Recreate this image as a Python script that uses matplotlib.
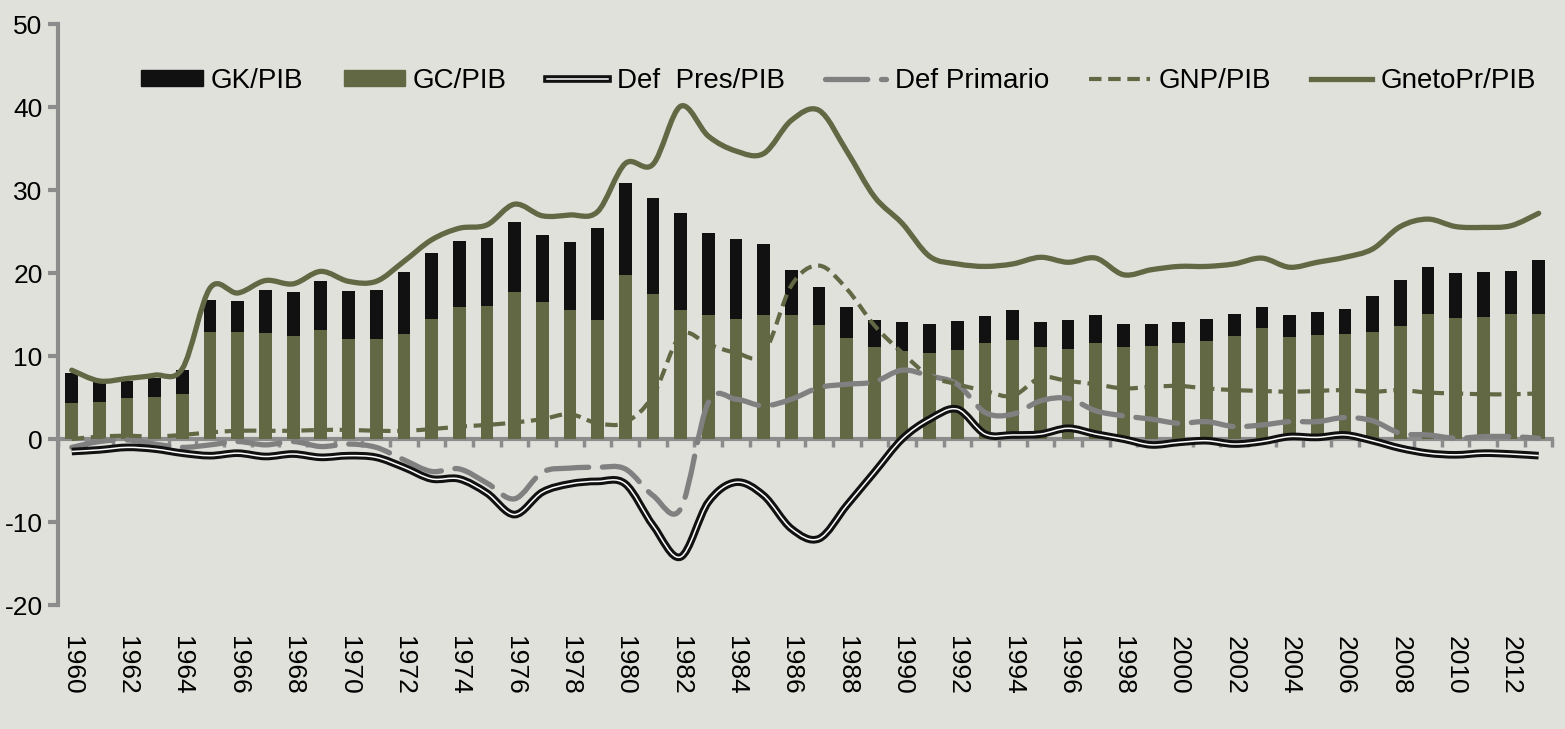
import matplotlib
matplotlib.use("Agg")
import matplotlib.pyplot as plt
import numpy as np
from matplotlib.path import Path
from matplotlib.patches import PathPatch, Patch
from matplotlib.lines import Line2D
import matplotlib.patheffects as pe

plt.rcParams["font.family"] = ["Liberation Sans", "DejaVu Sans"]
plt.rcParams["axes.unicode_minus"] = False

years = list(range(1960, 2014))

gc_pib = [4.3, 4.5, 5.0, 5.1, 5.4, 12.9, 12.9, 12.8, 12.4, 13.1,
          12.0, 12.1, 12.7, 14.5, 15.9, 16.0, 17.7, 16.5, 15.6, 14.4,
          19.8, 17.5, 15.6, 14.9, 14.5, 14.9, 14.9, 13.7, 12.2, 11.1,
          10.6, 10.4, 10.7, 11.6, 11.9, 11.1, 10.9, 11.6, 11.1, 11.2,
          11.6, 11.8, 12.4, 13.4, 12.3, 12.5, 12.7, 12.9, 13.6, 15.1,
          14.6, 14.7, 15.1, 15.1]
total_pib = [8.0, 6.9, 7.0, 7.4, 8.3, 16.8, 16.6, 17.9, 17.7, 19.0,
             17.8, 18.0, 20.1, 22.4, 23.9, 24.2, 26.1, 24.6, 23.7, 25.4,
             30.9, 29.0, 27.2, 24.8, 24.1, 23.5, 20.4, 18.3, 15.9, 14.3,
             14.1, 13.9, 14.2, 14.8, 15.6, 14.1, 14.3, 14.9, 13.9, 13.9,
             14.1, 14.5, 15.1, 15.9, 14.9, 15.3, 15.7, 17.2, 19.2, 20.7,
             20.0, 20.1, 20.2, 21.6]
gk_pib = [t - c for t, c in zip(total_pib, gc_pib)]

def_pres = [-1.5, -1.3, -1.0, -1.2, -1.7, -2.0, -1.7, -2.1, -1.8, -2.2,
            -2.0, -2.2, -3.4, -4.8, -4.8, -6.5, -9.1, -6.4, -5.4, -5.1,
            -5.4, -10.4, -14.2, -7.6, -5.2, -6.8, -10.8, -12.0, -8.0, -4.0,
            0.0, 2.4, 3.6, 0.6, 0.5, 0.6, 1.3, 0.6, 0.0, -0.7,
            -0.4, -0.2, -0.6, -0.3, 0.3, 0.2, 0.5, -0.2, -1.1, -1.7,
            -1.9, -1.7, -1.8, -2.0]
def_primario = [-1.0, -0.3, -0.1, -0.6, -1.0, -0.7, -0.3, -0.7, -0.3, -0.9,
                -0.6, -1.0, -2.5, -3.9, -3.6, -5.3, -7.2, -4.0, -3.5, -3.4,
                -3.6, -6.8, -8.4, 4.4, 4.8, 4.0, 4.8, 6.2, 6.6, 6.9,
                8.3, 7.6, 6.6, 3.2, 3.0, 4.6, 4.9, 3.4, 2.8, 2.4,
                1.9, 2.1, 1.5, 1.7, 2.1, 2.1, 2.6, 2.2, 0.7, 0.5,
                0.1, 0.3, 0.3, 0.1]
gnp_pib = [0.0, 0.3, 0.4, 0.3, 0.5, 0.8, 1.0, 1.0, 1.0, 1.1,
           1.1, 1.0, 1.0, 1.2, 1.5, 1.7, 2.0, 2.4, 3.0, 1.9,
           2.0, 5.2, 12.5, 11.4, 10.4, 10.3, 18.5, 20.9, 18.1, 13.7,
           10.4, 7.6, 6.6, 5.8, 5.2, 7.4, 7.0, 6.6, 6.1, 6.3,
           6.4, 6.1, 5.9, 5.8, 5.7, 5.8, 5.9, 5.7, 5.9, 5.6,
           5.5, 5.4, 5.4, 5.5]
gneto_pr = [8.3, 7.0, 7.3, 7.7, 8.5, 18.2, 17.6, 19.1, 18.7, 20.2,
            19.0, 19.0, 21.4, 24.0, 25.4, 25.8, 28.3, 26.9, 27.0, 27.4,
            33.2, 33.1, 40.1, 36.5, 34.7, 34.4, 38.4, 39.6, 34.7, 29.2,
            26.0, 22.0, 21.1, 20.8, 21.1, 21.9, 21.3, 21.8, 19.8, 20.4,
            20.8, 20.8, 21.1, 21.8, 20.7, 21.3, 21.9, 22.9, 25.6, 26.5,
            25.6, 25.5, 25.7, 27.2]

BG = "#e0e1db"
OLIVE = "#626744"
BLACK = "#111111"
GRAY = "#808080"
AXIS = "#8c8c8c"


def smooth_path(xs, ys):
    # smoothed line like the spreadsheet: Catmull-Rom segments as cubic Beziers
    pts = np.column_stack([xs, ys]).astype(float)
    n = len(pts)
    verts = [pts[0]]
    codes = [Path.MOVETO]
    for i in range(n - 1):
        p0 = pts[i - 1] if i > 0 else pts[i]
        p1, p2 = pts[i], pts[i + 1]
        p3 = pts[i + 2] if i + 2 < n else pts[i + 1]
        verts += [p1 + (p2 - p0) / 6, p2 - (p3 - p1) / 6, p2]
        codes += [Path.CURVE4] * 3
    return Path(verts, codes)


x = np.arange(len(years))

fig = plt.figure(figsize=(15.65, 7.29), dpi=100, facecolor=BG)
ax = fig.add_axes([0.037, 0.170, 0.955, 0.797])
ax.set_facecolor(BG)

w = 0.46
ax.bar(x, gc_pib, w, color=OLIVE, zorder=2)
ax.bar(x, gk_pib, w, bottom=gc_pib, color=BLACK, zorder=2)

stroke = [pe.withStroke(linewidth=5.5, foreground=BLACK)]
p = PathPatch(smooth_path(x, def_pres), fill=False, edgecolor="white",
              lw=1.1, zorder=4, path_effects=stroke)
ax.add_patch(p)
p = PathPatch(smooth_path(x, def_primario), fill=False, edgecolor=GRAY,
              lw=3.8, linestyle=(0, (8, 2.6)), capstyle="round", zorder=3)
ax.add_patch(p)
p = PathPatch(smooth_path(x, gnp_pib), fill=False, edgecolor=OLIVE,
              lw=3.0, linestyle=(0, (3, 1.6)), zorder=3)
ax.add_patch(p)
p = PathPatch(smooth_path(x, gneto_pr), fill=False, edgecolor=OLIVE,
              lw=3.8, zorder=3, capstyle="round")
ax.add_patch(p)

ax.set_xlim(-0.5, len(years) - 0.5)
ax.set_ylim(-20, 50)
ax.set_yticks(range(-20, 51, 10))

for s in ["top", "right"]:
    ax.spines[s].set_visible(False)
ax.spines["left"].set_color(AXIS)
ax.spines["left"].set_linewidth(3)
ax.spines["bottom"].set_position(("data", 0))
ax.spines["bottom"].set_color(AXIS)
ax.spines["bottom"].set_linewidth(3)
ax.spines["bottom"].set_zorder(1)

ax.tick_params(axis="y", colors=AXIS, width=3, length=7, labelsize=19,
               labelcolor="black", pad=4)
ax.set_xticks(np.arange(-0.5, len(years), 1))
ax.tick_params(axis="x", colors=AXIS, width=2.5, length=6, labelbottom=False)

sec = ax.secondary_xaxis(0)
sec.spines["bottom"].set_visible(False)
sec.set_xticks(x[::2])
sec.set_xticklabels([str(yr) for yr in years[::2]], rotation=270)
sec.tick_params(length=0, labelsize=19, pad=22)

handles = [
    Patch(color=BLACK),
    Patch(color=OLIVE),
    Line2D([], [], color="white", lw=1.1, path_effects=stroke),
    Line2D([], [], color=GRAY, lw=3.8, linestyle=(0, (8, 2.6)),
           dash_capstyle="round"),
    Line2D([], [], color=OLIVE, lw=3.0, linestyle=(0, (3, 1.6))),
    Line2D([], [], color=OLIVE, lw=3.8),
]
labels = ["GK/PIB", "GC/PIB", "Def  Pres/PIB", "Def Primario", "GNP/PIB",
          "GnetoPr/PIB"]
fig.legend(handles, labels, loc="center", bbox_to_anchor=(0.536, 0.889),
           ncol=6, frameon=False, fontsize=20, handlelength=2.2,
           handleheight=0.55, handletextpad=0.3, columnspacing=1.45)

fig.savefig("out.png", dpi=100, facecolor=BG)
